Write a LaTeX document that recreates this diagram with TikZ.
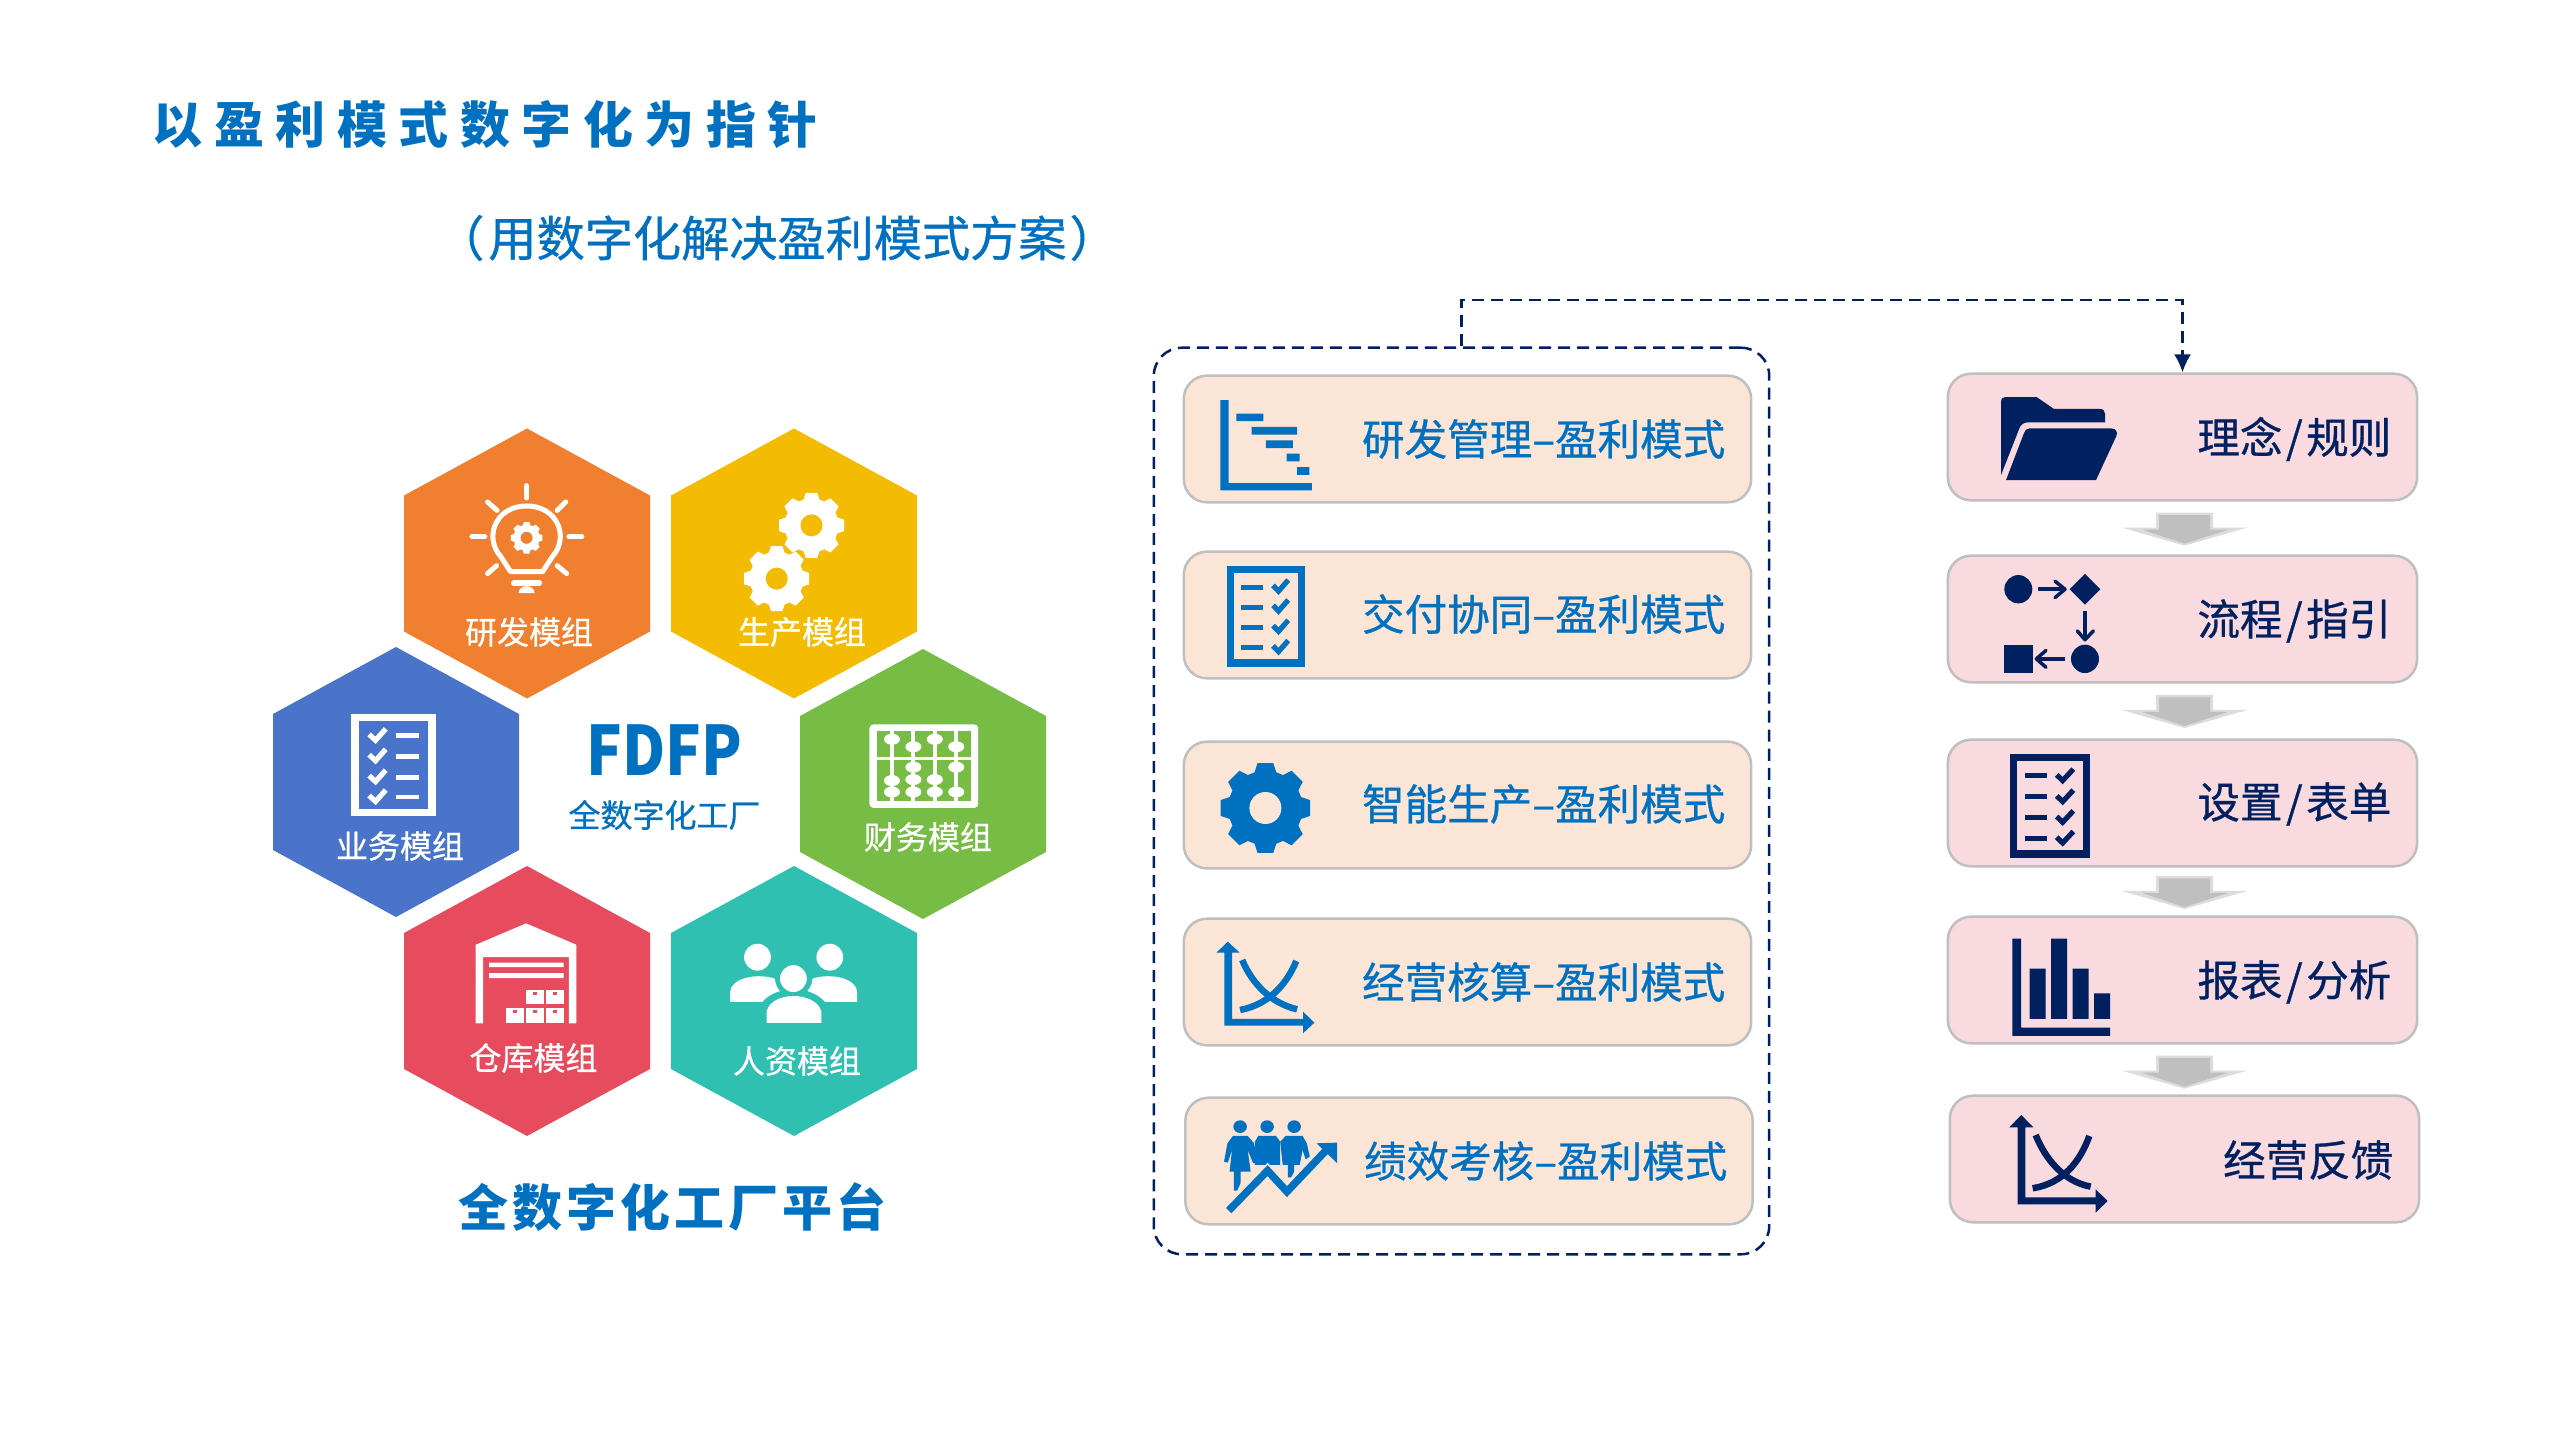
\documentclass[tikz,border=0pt]{standalone}
\usepackage{fontspec}
\setmainfont{Noto Sans CJK SC}
\newfontfamily\cjkm[FakeBold=0.7]{Noto Sans CJK SC}
\usetikzlibrary{arrows.meta}
\definecolor{mblue}{HTML}{0070C0}
\definecolor{navy}{HTML}{002060}
\definecolor{hexor}{HTML}{F08030}
\definecolor{hexye}{HTML}{F3BC02}
\definecolor{hexbl}{HTML}{4A74CA}
\definecolor{hexgr}{HTML}{77BC44}
\definecolor{hexre}{HTML}{E64C5E}
\definecolor{hexte}{HTML}{30C0B2}
\definecolor{peach}{HTML}{FBE5D6}
\definecolor{pinkb}{HTML}{F9DADF}
\definecolor{bord}{HTML}{BFBFBF}
\definecolor{arlight}{HTML}{DCDCDC}
\newcommand\fs[1]{\fontsize{#1}{#1}\selectfont}
\newcommand\sla{\kern.035cm/\kern.035cm}
\newcommand\hexa[3]{\fill[#3] (#1,#2-135) -- (#1+123,#2-68) -- (#1+123,#2+68) -- (#1,#2+135) -- (#1-123,#2+68) -- (#1-123,#2-68) -- cycle;}
\newcommand\gearicon[6]{% cx cy r hole col holecol
  \begin{scope}[shift={(#1,#2)}]
  \fill[#5] (-17:#3*.82) \foreach \a in {0,45,...,315}{ -- (\a-17:#3*.82) -- (\a-10:#3) -- (\a+10:#3) -- (\a+17:#3*.82)} -- cycle;
  \fill[#6] (0,0) circle[radius=#4];
  \end{scope}}
\newcommand\grayarrow[1]{%
  \fill[arlight] (2156,#1) -- (2213,#1) -- (2213,#1+15) -- (2247,#1+15) -- (2184.5,#1+33) -- (2122,#1+15) -- (2156,#1+15) -- cycle;
  \fill[bord] (2159,#1+2.5) -- (2210,#1+2.5) -- (2210,#1+17) -- (2228,#1+17) -- (2184.5,#1+31) -- (2142,#1+17) -- (2159,#1+17) -- cycle;}
\tikzset{
  zA/.style={shift={(240,400)},xscale=.5357,yscale=.4975},
  zB/.style={shift={(1140,280)},xscale=.4223,yscale=.3827},
  zC/.style={shift={(1140,880)},xscale=.4223,yscale=.3333},
  zD/.style={shift={(1920,280)},xscale=.3333,yscale=.3827},
  zE/.style={shift={(1920,860)},xscale=.3333,yscale=.3333},
  hexlabel/.style={text=white,font=\cjkm\fs{9.1pt},inner sep=0},
  lbox/.style={draw=bord,line width=.025cm,fill=peach,rounded corners=.23cm,minimum width=5.67cm,minimum height=1.265cm,inner sep=0},
  rbox/.style={draw=bord,line width=.025cm,fill=pinkb,rounded corners=.23cm,minimum width=4.69cm,minimum height=1.265cm,inner sep=0},
  ltext/.style={text=mblue,font=\cjkm\fs{12.1pt},inner sep=0,anchor=east},
  rtext/.style={text=navy,font=\cjkm\fs{12.1pt},inner sep=0,anchor=east},
  frameb/.style={draw=navy,line width=.025cm,dash pattern=on .12cm off .07cm,rounded corners=.28cm,minimum width=6.15cm,minimum height=9.06cm,inner sep=0},
  wl/.style={white,line cap=round,line width=.05cm},
  ck/.style={line width=.052cm,line join=miter},
  ax/.style={line width=.065cm}
}
\begin{document}
\begin{tikzpicture}[x=.01cm,y=-.01cm]
\useasboundingbox (0,0) rectangle (2560,1440);
\fill[white] (0,0) rectangle (2560,1440);

% titles
\node[anchor=west,inner sep=0,text=mblue,font=\fs{14.2pt}\bfseries\addfontfeature{LetterSpace=23.2}] (title) at (152,125) {以盈利模式数字化为指针};
\node[inner sep=0,text=mblue,font=\cjkm\fs{13.7pt}] (subtitle) at (777,238) {（\kern.04cm 用数字化解决盈利模式方案\kern.03cm）};
\node[anchor=west,inner sep=0,text=mblue,font=\fs{14.2pt}\bfseries\addfontfeature{LetterSpace=8}] (platform) at (458,1207) {全数字化工厂平台};

% hexagons
\hexa{527}{563.5}{hexor}
\hexa{794}{563.5}{hexye}
\hexa{396}{782}{hexbl}
\hexa{923}{784}{hexgr}
\hexa{527}{1001}{hexre}
\hexa{794}{1001}{hexte}
\node[hexlabel] (m1) at (529,632) {研发模组};
\node[hexlabel] (m2) at (802,632) {生产模组};
\node[hexlabel] (m3) at (400,846) {业务模组};
\node[hexlabel] (m4) at (928,837) {财务模组};
\node[hexlabel] (m5) at (533.5,1058) {仓库模组};
\node[hexlabel] (m6) at (797,1061) {人资模组};
\node[inner sep=0,text=mblue,font=\fs{19.4pt}\bfseries] (fdfp) at (664.5,750) {\scalebox{.87}[1]{FDFP}};
\node[inner sep=0,text=mblue,font=\cjkm\fs{9.1pt}] (fdfpsub) at (664.5,815) {全数字化工厂};

% bulb icon
\begin{scope}[zA]
\foreach \p/\q in {{535,172}/{535,197},{462,205}/{480,222},{608,205}/{592,222},{433,275}/{457,275},{614,275}/{638,275},{462,349}/{479,333},{610,349}/{592,333}}
  \draw[wl] (\p) -- (\q);
\draw[white,line width=.05cm,line join=round] (505,345) -- (487,315) .. controls (470,295) and (470,270) .. (475,255) .. controls (485,225) and (510,213) .. (535,213) .. controls (560,213) and (585,225) .. (595,255) .. controls (600,270) and (600,295) .. (583,315) -- (565,345) -- cycle;
\draw[white,line cap=round,line width=.065cm] (512,368) -- (558,368);
\fill[white] (520,388) -- (550,388) arc[start angle=0,end angle=180,x radius=15,y radius=-14] -- cycle;
\end{scope}
\gearicon{526.6}{537.8}{16}{6}{white}{hexor}
% two gears
\gearicon{811.5}{525.4}{33}{11}{white}{hexye}
\gearicon{776.7}{578.6}{33}{11}{white}{hexye}
% list icon
\begin{scope}[zA]
\fill[white] (207,631) rectangle (366,837);
\fill[hexbl] (222,646) rectangle (351,822);
\foreach \y in {0,41,83,123}{
  \draw[white,ck] (241,672+\y) -- (253,684+\y) -- (272,661+\y);
  \fill[white] (292,670+\y) rectangle (335,680+\y);
}
\end{scope}
% abacus icon
\begin{scope}[zA]
\fill[white,rounded corners=.04cm] (1175,652) rectangle (1378,820);
\fill[hexgr] (1189,666) rectangle (1365,806);
\draw[white,line width=.03cm] (1189,720) -- (1365,720);
\foreach \x in {1217,1257,1297,1337} \draw[white,line width=.04cm] (\x,666) -- (\x,806);
\foreach \x/\y in {1217/682,1217/765,1217/788,1257/697,1257/738,1257/763,1257/788,1297/682,1297/763,1297/788,1337/697,1337/738,1337/788}
  \fill[white] (\x,\y) ellipse[x radius=15,y radius=11];
\end{scope}
% warehouse icon
\begin{scope}[zA]
\fill[white] (440,1253) -- (440,1095) -- (534,1052) -- (628,1095) -- (628,1253) -- (614,1253) -- (614,1120) -- (454,1120) -- (454,1253) -- cycle;
\fill[white] (465,1131) rectangle (604,1140) (465,1152) rectangle (604,1162);
\foreach \a/\b/\c/\d in {534/568/1185/1215,571/604/1185/1215,497/530/1222/1253,534/568/1222/1253,571/604/1222/1253}{
  \fill[white] (\a,\c) rectangle (\b,\d);
  \fill[hexre] (\a/2+\b/2-4,\c+4) rectangle (\a/2+\b/2+4,\c+10);
}
\end{scope}
% people icon
\begin{scope}[zA]
\fill[white] (966,1120) ellipse[x radius=25,y radius=27];
\fill[white] (1101,1120) ellipse[x radius=25,y radius=27];
\fill[white] (1033,1163) ellipse[x radius=25,y radius=27];
\fill[white] (915,1210) -- (915,1190) .. controls (915,1165) and (960,1150) .. (998,1163) .. controls (1000,1175) and (1003,1183) .. (1008,1188) .. controls (995,1192) and (982,1200) .. (975,1210) -- cycle;
\fill[white] (1152,1210) -- (1152,1190) .. controls (1152,1165) and (1107,1150) .. (1069,1163) .. controls (1067,1175) and (1064,1183) .. (1059,1188) .. controls (1072,1192) and (1085,1200) .. (1092,1210) -- cycle;
\fill[white] (983,1252) -- (983,1228) .. controls (990,1205) and (1015,1198) .. (1033,1198) .. controls (1051,1198) and (1078,1205) .. (1085,1228) -- (1085,1252) -- cycle;
\end{scope}

% left frame and boxes
\node[frameb] (frame) at (1461.5,801) {};
\node[lbox] (l1) at (1467.5,439) {};
\node[lbox] (l2) at (1467.5,615) {};
\node[lbox] (l3) at (1467.5,805) {};
\node[lbox] (l4) at (1467.5,982) {};
\node[lbox] (l5) at (1469,1161) {};
\node[ltext] (lt1) at (1726,439) {研发管理–盈利模式};
\node[ltext] (lt2) at (1726,614) {交付协同–盈利模式};
\node[ltext] (lt3) at (1726,804) {智能生产–盈利模式};
\node[ltext] (lt4) at (1726,982) {经营核算–盈利模式};
\node[ltext] (lt5) at (1728,1161) {绩效考核–盈利模式};

% gantt icon
\begin{scope}[zB]
\fill[mblue] (190,314) rectangle (210,550) (190,531) rectangle (407,550);
\fill[mblue] (228,349) rectangle (292,369) (264,384) rectangle (372,404) (298,419) rectangle (362,439) (347,454) rectangle (378,474) (372,489) rectangle (401,509);
\end{scope}
% checklist icon
\begin{scope}[zB]
\fill[mblue] (205,747) rectangle (390,1010);
\fill[peach] (222,766) rectangle (373,990);
\foreach \y in {0,52,105,158}{
  \fill[mblue] (240,797+\y) rectangle (292,810+\y);
  \draw[mblue,ck] (315,798+\y) -- (328,813+\y) -- (351,784+\y);
}
\end{scope}
\gearicon{1265.4}{808}{45.5}{16}{mblue}{peach}
% crossing-curves icon
\begin{scope}[zC]
\fill[mblue] (200,437) -- (200,218) -- (181,218) -- (208,185) -- (236,218) -- (218,218) -- (218,417) -- (386,417) -- (386,395) -- (413,428) -- (386,460) -- (386,437) -- cycle;
\draw[mblue,ax] (242,240) .. controls (265,310) and (310,370) .. (372,388);
\draw[mblue,ax] (370,243) .. controls (345,320) and (300,375) .. (237,390);
\end{scope}
% people and growth icon
\begin{scope}[zC]
\foreach \x in {237,301,365} \fill[mblue] (\x,740) ellipse[x radius=16,y radius=19];
\fill[mblue] (220,768) -- (255,768) -- (270,790) -- (278,848) -- (268,850) -- (255,810) -- (262,875) -- (238,875) -- (238,910) -- (230,932) -- (222,932) -- (222,875) -- (212,875) -- (218,810) -- (208,848) -- (199,845) -- (207,790) -- cycle;
\fill[mblue] (280,768) -- (322,768) -- (332,785) -- (332,855) -- (272,855) -- (272,785) -- cycle;
\fill[mblue] (345,768) -- (385,768) -- (395,790) -- (402,830) -- (392,838) -- (385,810) -- (378,855) -- (365,855) -- (365,875) -- (358,892) -- (350,892) -- (350,855) -- (338,855) -- (332,785) -- cycle;
\draw[peach,line width=.11cm,line join=miter] (205,1000) -- (302,872) -- (348,935) -- (440,812);
\draw[mblue,line width=.075cm,line join=miter] (210,992) -- (302,872) -- (348,935) -- (440,812);
\fill[mblue] (418,790) -- (467,788) -- (467,850) -- cycle;
\end{scope}

% right boxes
\node[rbox] (r1) at (2182.5,437) {};
\node[rbox] (r2) at (2182.5,619) {};
\node[rbox] (r3) at (2182.5,803) {};
\node[rbox] (r4) at (2182.5,980) {};
\node[rbox] (r5) at (2184.5,1159) {};
\node[rtext] (rt1) at (2392,439) {理念\sla 规则};
\node[rtext] (rt2) at (2392,621) {流程\sla 指引};
\node[rtext] (rt3) at (2392,804) {设置\sla 表单};
\node[rtext] (rt4) at (2392,982) {报表\sla 分析};
\node[rtext] (rt5) at (2394,1160) {经营反馈};

\grayarrow{512.7}
\grayarrow{695}
\grayarrow{876}
\grayarrow{1055.7}

% folder icon
\begin{scope}[zD]
\fill[navy] (243,510) -- (243,320) .. controls (243,310) and (248,306) .. (255,306) -- (350,306) -- (402,337) -- (540,337) .. controls (550,337) and (555,342) .. (555,350) -- (555,372) -- (325,372) .. controls (310,372) and (302,378) .. (297,390) -- cycle;
\fill[navy] (258,523) -- (312,400) .. controls (315,392) and (320,388) .. (328,388) -- (575,388) .. controls (588,388) and (594,398) .. (589,408) -- (528,523) -- cycle;
\end{scope}
% flow icon
\begin{scope}[zD]
\fill[navy] (295,808) ellipse[x radius=42,y radius=37];
\fill[navy] (495,768) -- (541,808) -- (495,848) -- (449,808) -- cycle;
\fill[navy] (495,990) ellipse[x radius=42,y radius=37];
\fill[navy] (253,953) rectangle (338,1026);
\draw[navy,line width=.035cm] (355,808) -- (432,808);
\draw[navy,line width=.035cm,line cap=round,line join=round] (405,787) -- (435,808) -- (405,830);
\draw[navy,line width=.035cm] (495,865) -- (495,938);
\draw[navy,line width=.035cm,line cap=round,line join=round] (472,917) -- (495,940) -- (520,917);
\draw[navy,line width=.035cm] (435,990) -- (352,990);
\draw[navy,line width=.035cm,line cap=round,line join=round] (378,968) -- (349,990) -- (378,1012);
\end{scope}
% checklist icon, dark
\begin{scope}[zD]
\fill[navy] (269,1238) rectangle (511,1510);
\fill[pinkb] (292,1258) rectangle (488,1490);
\foreach \y in {0,55,109,163}{
  \fill[navy] (316,1289+\y) rectangle (382,1302+\y);
  \draw[navy,ck] (410,1293+\y) -- (428,1308+\y) -- (460,1278+\y);
}
\end{scope}
% bar chart icon
\begin{scope}[zE]
\fill[navy] (277,236) rectangle (303,528) (277,503) rectangle (570,528);
\fill[navy] (329,326) rectangle (377,477) (393,236) rectangle (441,477) (458,326) rectangle (506,477) (522,400) rectangle (570,477);
\end{scope}
% crossing-curves icon, dark
\begin{scope}[zE]
\fill[navy] (293,1033) -- (293,802) -- (268,802) -- (304,765) -- (340,802) -- (316,802) -- (316,1012) -- (527,1012) -- (527,988) -- (563,1023) -- (527,1058) -- (527,1033) -- cycle;
\draw[navy,ax] (347,825) .. controls (375,895) and (430,965) .. (512,980);
\draw[navy,ax] (508,828) .. controls (480,905) and (430,970) .. (338,985);
\end{scope}

% dashed connector
\coordinate (bend) at (2182.5,300);
\draw[navy,line width=.025cm,dash pattern=on .12cm off .07cm,-{Latex[length=.18cm,width=.17cm]}] (frame.north) |- (bend) -- (r1.north);
\end{tikzpicture}
\end{document}
